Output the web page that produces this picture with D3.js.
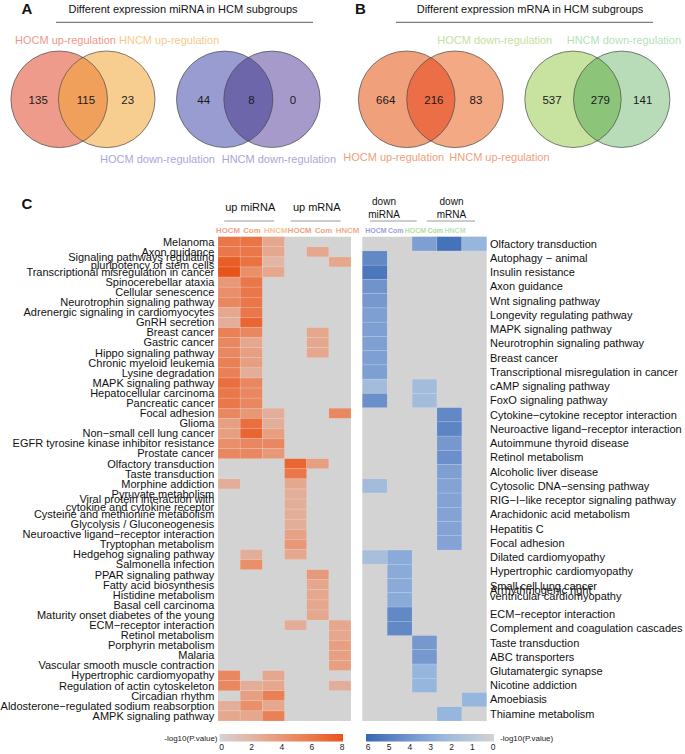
<!DOCTYPE html>
<html><head><meta charset="utf-8">
<script src="https://cdn.jsdelivr.net/npm/d3@7"></script>
<style>
body{margin:0;background:#fff}
svg{display:block}
text{font-family:"Liberation Sans",Arial,Helvetica,sans-serif}
</style>
</head><body>
<svg id="chart" width="685" height="754"></svg>
<script>
// ---------------- DATA ----------------
const miUpVenn   = [135, 115, 23];
const miDownVenn = [44, 8, 0];
const mUpVenn    = [664, 216, 83];
const mDownVenn  = [537, 279, 141];

const upGroups   = ["up miRNA", "up mRNA"];
const upCols     = ["HOCM", "Com", "HNCM", "HOCM", "Com", "HNCM"];
const downGroups = [["down", "miRNA"], ["down", "mRNA"]];
const downCols   = ["HOCM", "Com", "HOCM", "Com", "HNCM"];

const upPathways = [
  "Melanoma","Axon guidance","Signaling pathways regulating\npluripotency of stem cells",
  "Transcriptional misregulation in cancer","Spinocerebellar ataxia","Cellular senescence",
  "Neurotrophin signaling pathway","Adrenergic signaling in cardiomyocytes","GnRH secretion",
  "Breast cancer","Gastric cancer","Hippo signaling pathway","Chronic myeloid leukemia",
  "Lysine degradation","MAPK signaling pathway","Hepatocellular carcinoma","Pancreatic cancer",
  "Focal adhesion","Glioma","Non\u2212small cell lung cancer","EGFR tyrosine kinase inhibitor resistance",
  "Prostate cancer","Olfactory transduction","Taste transduction","Morphine addiction",
  "Pyruvate metabolism","Viral protein interaction with\ncytokine and cytokine receptor",
  "Cysteine and methionine metabolism","Glycolysis / Gluconeogenesis",
  "Neuroactive ligand\u2212receptor interaction","Tryptophan metabolism","Hedgehog signaling pathway",
  "Salmonella infection","PPAR signaling pathway","Fatty acid biosynthesis","Histidine metabolism",
  "Basal cell carcinoma","Maturity onset diabetes of the young","ECM\u2212receptor interaction",
  "Retinol metabolism","Porphyrin metabolism","Malaria","Vascular smooth muscle contraction",
  "Hypertrophic cardiomyopathy","Regulation of actin cytoskeleton","Circadian rhythm",
  "Aldosterone\u2212regulated sodium reabsorption","AMPK signaling pathway"
];
// -log10(P.value), 0 = not significant
const upMiHOCM = [6,6,7.5,8,4,4.5,5,3,2.5,5.5,5,5,5.5,5.5,6.5,6,6,5,3.5,3.5,4.5,5,
                  0,0,2.5,0,0,0,0,0,0,0,0,0,0,0,0,0,0,0,0,0,0,5,5,0,2.5,3];
const upMiCom  = [6.2,6,6.3,4.5,6,6,6,6,7,5,3,3.5,3.5,2.5,5,5,5,4,6.5,7,5,5,
                  0,0,0,0,0,0,0,0,0,2.5,4.5,0,0,0,0,0,0,0,0,0,0,0,2.5,3.5,4.5,3];
const upMiHNCM = [3,3,2,3,0,0,0,0,0,0,0,0,0,0,0,0,0,2.5,2.5,3.5,5,4,
                  0,0,0,0,0,0,0,0,0,0,0,0,0,0,0,0,0,0,0,0,0,3,3,5.5,3,5.5];
const upMrHOCM = [0,0,0,0,0,0,0,0,0,0,0,0,0,0,0,0,0,0,0,0,0,0,
                  7,6,3,2.5,2.5,2.5,2.5,3.3,4,3,0,0,0,0,0,0,2.5,0,0,0,0,0,0,0,0,0];
const upMrCom  = [0,3,0,0,0,0,0,0,0,3,3,3,0,0,0,0,0,0,0,0,0,0,
                  3.5,0,0,0,0,0,0,0,0,0,0,3.8,3,3,3,3,0,0,0,0,0,0,0,0,0,0];
const upMrHNCM = [0,0,3,0,0,0,0,0,0,0,0,0,0,0,0,0,0,5,0,0,0,0,
                  0,0,0,0,0,0,0,0,0,0,0,0,0,0,0,0,3,3,3.5,3.5,3.5,0,2.5,0,0,0];

const downPathways = [
  "Olfactory transduction","Autophagy \u2212 animal","Insulin resistance","Axon guidance",
  "Wnt signaling pathway","Longevity regulating pathway","MAPK signaling pathway",
  "Neurotrophin signaling pathway","Breast cancer","Transcriptional misregulation in cancer",
  "cAMP signaling pathway","FoxO signaling pathway","Cytokine\u2212cytokine receptor interaction",
  "Neuroactive ligand\u2212receptor interaction","Autoimmune thyroid disease","Retinol metabolism",
  "Alcoholic liver disease","Cytosolic DNA\u2212sensing pathway","RIG\u2212I\u2212like receptor signaling pathway",
  "Arachidonic acid metabolism","Hepatitis C","Focal adhesion","Dilated cardiomyopathy",
  "Hypertrophic cardiomyopathy","Small cell lung cancer","Arrhythmogenic right\nventricular cardiomyopathy",
  "ECM\u2212receptor interaction","Complement and coagulation cascades","Taste transduction",
  "ABC transporters","Glutamatergic synapse","Nicotine addiction","Amoebiasis","Thiamine metabolism"
];
const downMiHOCM = [0,4.5,5.3,4,3.8,3.5,3.5,3.5,3.5,3.5,2,4.2,0,0,0,0,0,2,0,0,0,0,1.8,0,0,0,0,0,0,0,0,0,0,0];
const downMiCom  = [0,0,0,0,0,0,0,0,0,0,0,0,0,0,0,0,0,0,0,0,0,0,3,3,3,3,4.5,4.5,0,0,0,0,0,0];
const downMrHOCM = [3.5,0,0,0,0,0,0,0,0,0,2,2,0,0,0,0,0,0,0,0,0,0,0,0,0,0,0,0,3.8,3.8,2.5,2.5,0,0];
const downMrCom  = [5.5,0,0,0,0,0,0,0,0,0,0,0,4.5,4.7,3.8,4.2,3.5,3.3,3.3,3.3,3.3,3.3,0,0,0,0,0,0,0,0,0,0,0,2.5];
const downMrHNCM = [2.5,0,0,0,0,0,0,0,0,0,0,0,0,0,0,0,0,0,0,0,0,0,0,0,0,0,0,0,0,0,0,0,2.5,0];

const upLegendTicks   = [0, 2, 4, 6, 8];
const downLegendTicks = [6, 5, 4, 3, 2, 1, 0];

// ---------------- DRAWING ----------------
const svg = d3.select("#chart");
const GRAY = "#d3d3d3";

// panel letters
[["A",21.5,13.5],["B",355,13.5],["C",21.5,208.5]].forEach(([t,x,y]) =>
  svg.append("text").attr("x",x).attr("y",y).attr("font-size",15).attr("font-weight","bold")
     .attr("fill","#111").text(t));

// titles with rule
function title(txt, cx, x1, x2){
  svg.append("text").attr("x",cx).attr("y",13).attr("text-anchor","middle")
     .attr("font-size",11).attr("fill","#111").text(txt);
  svg.append("line").attr("x1",x1).attr("x2",x2).attr("y1",22.3).attr("y2",22.3)
     .attr("stroke","#333").attr("stroke-width",0.8);
}
title("Different expression miRNA in HCM subgroups", 183, 56, 313);
title("Different expression mRNA in HCM subgroups", 530, 396, 653);

// venn
let clipN = 0;
function venn(cx1, cx2, cy, r, cols, counts){
  const id = "vclip" + (clipN++);
  svg.append("clipPath").attr("id", id).append("circle").attr("cx",cx1).attr("cy",cy).attr("r",r);
  const g = svg.append("g");
  g.append("circle").attr("cx",cx1).attr("cy",cy).attr("r",r).attr("fill",cols[0]);
  g.append("circle").attr("cx",cx2).attr("cy",cy).attr("r",r).attr("fill",cols[1]);
  g.append("circle").attr("cx",cx2).attr("cy",cy).attr("r",r).attr("fill",cols[2]).attr("clip-path",`url(#${id})`);
  [cx1,cx2].forEach(cx => g.append("circle").attr("cx",cx).attr("cy",cy).attr("r",r)
     .attr("fill","none").attr("stroke","#4a4a4a").attr("stroke-width",0.7));
  const xs = [cx1 - 21, (cx1+cx2)/2 + 3, cx2 + 21];
  counts.forEach((c,i) => g.append("text").attr("x",xs[i]).attr("y",cy+4.2)
     .attr("text-anchor","middle").attr("font-size",11.5).attr("fill","#1a1a1a").text(c));
}
venn(59.2, 106.7, 99.3, 48.3, ["#ee9b8b","#f7ce90","#f0a05a"], miUpVenn);
venn(224.7, 272, 99.3, 48.2, ["#989cd0","#a59aca","#6e66aa"], miDownVenn);
venn(406.7, 455, 99.3, 48.3, ["#f0a07a","#f2a984","#eb6e46"], mUpVenn);
venn(573, 621.7, 99.3, 48.2, ["#c8e2a0","#b8dcb8","#8cc47a"], mDownVenn);

function lab(t,x,y,c){ svg.append("text").attr("x",x).attr("y",y).attr("font-size",11).attr("fill",c).text(t); }
lab("HOCM up-regulation", 15, 44, "#ef978a");
lab("HNCM up-regulation", 119, 44, "#f8c98c");
lab("HOCM down-regulation", 100, 163, "#a7a7de");
lab("HNCM down-regulation", 221.7, 163, "#ada5d8");
lab("HOCM down-regulation", 437.3, 44, "#c6e0a0");
lab("HNCM down-regulation", 566.7, 44, "#b5dfbb");
lab("HOCM up-regulation", 343.3, 160.5, "#f0a07e");
lab("HNCM up-regulation", 449.3, 160.5, "#f0a07e");

// ---------------- HEATMAPS ----------------
const upColor = d3.scaleLinear().domain([0,8]).range([GRAY,"#e8531a"]).interpolate(d3.interpolateLab);
const downColor = d3.scaleLinear().domain([0,2.5,6]).range([GRAY,"#97b6de","#3468b4"]).interpolate(d3.interpolateLab);

function heatmap(o){
  const x = d3.scaleBand().domain(d3.range(o.series.length)).range([o.x0,o.x1]);
  const y = d3.scaleBand().domain(o.rows).range([o.y0,o.y1]);
  const g = svg.append("g");
  g.append("rect").attr("x",o.x0).attr("y",o.y0).attr("width",o.x1-o.x0).attr("height",o.y1-o.y0).attr("fill",GRAY);
  const cells = [];
  o.rows.forEach((r,i) => o.series.forEach((s,j) => { if (s[i] > 0) cells.push({r, j, v:s[i]}); }));
  g.selectAll("rect.cell").data(cells).join("rect").attr("class","cell")
    .attr("x",d=>x(d.j)).attr("y",d=>y(d.r)).attr("width",x.bandwidth()).attr("height",y.bandwidth())
    .attr("fill",d=>o.color(d.v)).attr("stroke","rgba(255,255,255,0.3)").attr("stroke-width",0.5);
  // row labels
  o.rows.forEach(r => {
    const lines = r.split("\n");
    const cy = y(r) + y.bandwidth()/2;
    lines.forEach((ln,k) => {
      const off = lines.length === 1 ? 0 : o.twoLine[k];
      svg.append("text").attr("x",o.labelX).attr("y",cy + off).attr("dy","0.35em")
        .attr("text-anchor",o.anchor).attr("font-size",11).attr("fill","#111").text(ln);
    });
  });
  return {x,y};
}

const L = heatmap({series:[upMiHOCM,upMiCom,upMiHNCM,upMrHOCM,upMrCom,upMrHNCM], rows:upPathways,
  x0:218, x1:351, y0:236.7, y1:721, color:upColor, labelX:214.3, anchor:"end", twoLine:[-4.5,3]});
const R = heatmap({series:[downMiHOCM,downMiCom,downMrHOCM,downMrCom,downMrHNCM], rows:downPathways,
  x0:362.3, x1:486.7, y0:236.7, y1:721, color:downColor, labelX:490, anchor:"start", twoLine:[-9.5,-4]});

// headers
const upHeadColors = ["#f29f90","#f1a466","#f8c68c","#f0a07c","#f0a47c","#f2ad8a"];
const upLabX = d3.scalePoint().domain(d3.range(upCols.length)).range([228,347.5]);
upCols.forEach((c,i) => svg.append("text").attr("x",upLabX(i)).attr("y",232.8).attr("text-anchor","middle")
  .attr("font-size",7.8).attr("font-weight","bold").attr("fill",upHeadColors[i]).text(c));
upGroups.forEach((gname,i) => {
  const cx = (L.x(i*3) + L.x(i*3+2) + L.x.bandwidth())/2 - 1;
  svg.append("text").attr("x",cx).attr("y",210.5).attr("text-anchor","middle").attr("font-size",11).attr("fill","#111").text(gname);
  svg.append("line").attr("x1",cx-26).attr("x2",cx+24).attr("y1",221).attr("y2",221).attr("stroke","#999").attr("stroke-width",1.2);
});

const downHeadColors = ["#9c9fe0","#a09ee0","#b6df9c","#a8d9a0","#b9e2c0"];
const downLabX = d3.scalePoint().domain(d3.range(downCols.length)).range([376,455]);
downCols.forEach((c,i) => svg.append("text").attr("x",downLabX(i)).attr("y",233).attr("text-anchor","middle")
  .attr("font-size",7).attr("font-weight","bold").attr("fill",downHeadColors[i]).text(c));
const downHead = [{cx:384, l1:370, l2:416.7},{cx:451.5, l1:426.7, l2:475}];
downGroups.forEach((lines,i) => {
  lines.forEach((t,k) => svg.append("text").attr("x",downHead[i].cx).attr("y",205.3 + k*12.3)
    .attr("text-anchor","middle").attr("font-size",10).attr("fill","#111").text(t));
  svg.append("line").attr("x1",downHead[i].l1).attr("x2",downHead[i].l2).attr("y1",221).attr("y2",221)
    .attr("stroke","#999").attr("stroke-width",1.2);
});

// ---------------- LEGENDS ----------------
function legend(scale, color, ticks, bx0, bx1, id, labelX, anchor){
  const grad = svg.append("defs").append("linearGradient").attr("id",id).attr("x1","0%").attr("x2","100%");
  const dom = scale.domain();
  d3.range(0,1.0001,0.05).forEach(t => grad.append("stop").attr("offset",(t*100)+"%")
     .attr("stop-color", color(dom[0] + (dom[1]-dom[0])*t)));
  svg.append("rect").attr("x",bx0).attr("y",734).attr("width",bx1-bx0).attr("height",7.5).attr("fill",`url(#${id})`);
  const ax = svg.append("g").attr("transform","translate(0,742)")
    .call(d3.axisBottom(scale).tickValues(ticks).tickSize(0).tickPadding(2).tickFormat(d3.format("d")));
  ax.select(".domain").remove();
  ax.selectAll("text").attr("font-size",8.5).attr("fill","#222")
    .attr("font-family","'Liberation Sans',Arial,sans-serif");
  svg.append("text").attr("x",labelX).attr("y",740.5).attr("text-anchor",anchor)
    .attr("font-size",8).attr("fill","#222").text("-log10(P.value)");
}
legend(d3.scaleLinear().domain([0,8]).range([221,341.5]), upColor, upLegendTicks, 219.5, 343, "gUp", 217.5, "end");
legend(d3.scaleLinear().domain([6,0]).range([367.7,492.7]), downColor, downLegendTicks, 366, 494, "gDown", 500, "start");
</script>
</body></html>
